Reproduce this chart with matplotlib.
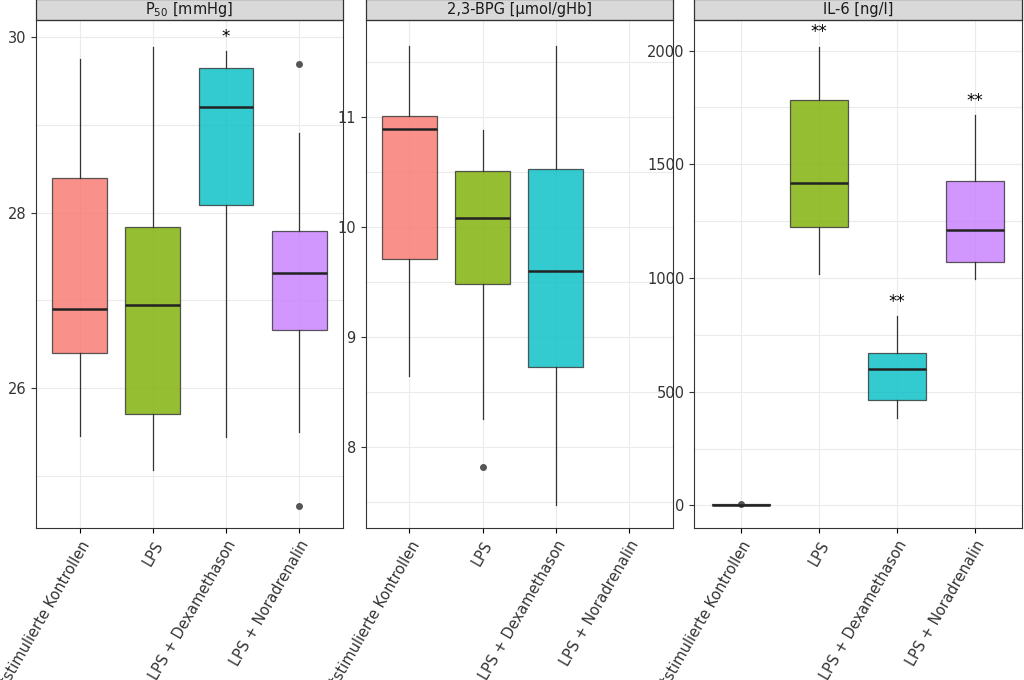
import matplotlib.pyplot as plt
from matplotlib.patches import Rectangle

groups = ["nichtstimulierte Kontrollen", "LPS", "LPS + Dexamethason", "LPS + Noradrenalin"]
colors = ["#F8766D", "#7CAE00", "#00BFC4", "#C77CFF"]

# (whislo, q1, med, q3, whishi, outliers)
p50 = [(25.45, 26.4, 26.9, 28.4, 29.75, []),
       (25.07, 25.7, 26.95, 27.84, 29.89, []),
       (25.44, 28.09, 29.21, 29.65, 29.84, []),
       (25.5, 26.66, 27.31, 27.79, 28.91, [24.65, 29.69])]
bpg = [(8.64, 9.71, 10.89, 11.01, 11.64, []),
       (8.25, 9.48, 10.08, 10.51, 10.88, [7.82]),
       (7.47, 8.73, 9.6, 10.52, 11.64, []),
       None]
il6 = [(0, 0, 2, 5, 8, [6]),
       (1017, 1224, 1418, 1784, 2018, []),
       (383, 462, 599, 670, 833, []),
       (996, 1070, 1211, 1427, 1718, [])]

panels = [("P$_{50}$ [mmHg]", p50, (24.4, 30.2), [26, 28, 30], {2: "*"}),
          ("2,3-BPG [µmol/gHb]", bpg, (7.26, 11.88), [8, 9, 10, 11], {}),
          ("IL-6 [ng/l]", il6, (-101, 2136), [0, 500, 1000, 1500, 2000], {1: "**", 2: "**", 3: "**"})]

fig = plt.figure(figsize=(10.24, 6.8), dpi=100)
boxes = [(0.035, 0.3), (0.357, 0.3), (0.678, 0.32)]
for (title, data, ylim, ticks, stars), (left, width) in zip(panels, boxes):
    ax = fig.add_axes([left, 0.223, width, 0.748])
    stats, pos, cols = [], [], []
    for i, d in enumerate(data):
        if d is None:
            continue
        lo, q1, med, q3, hi, fl = d
        stats.append(dict(whislo=lo, q1=q1, med=med, q3=q3, whishi=hi, fliers=fl))
        pos.append(i + 1)
        cols.append(colors[i])
    bp = ax.bxp(stats, positions=pos, widths=0.75, patch_artist=True, showcaps=False,
                medianprops=dict(color="#222222", lw=1.8),
                whiskerprops=dict(color="#333333", lw=0.9),
                boxprops=dict(edgecolor="#333333", lw=0.9),
                flierprops=dict(marker="o", markersize=4, markerfacecolor="#555555", markeredgecolor="#555555"))
    for b, c in zip(bp["boxes"], cols):
        b.set_facecolor(c)
        b.set_alpha(0.8)
    ax.set_xlim(0.4, 4.6)
    ax.set_ylim(*ylim)
    ax.set_yticks(ticks)
    step = ticks[1] - ticks[0]
    minor = [ticks[0] - step / 2] + [t + step / 2 for t in ticks]
    ax.set_yticks(minor, minor=True)
    ax.set_ylim(*ylim)
    ax.set_xticks([1, 2, 3, 4])
    ax.set_xticklabels(groups, rotation=60, ha="right", rotation_mode="anchor", fontsize=10.5, color="#333333")
    ax.tick_params(axis="y", labelsize=10.5, colors="#333333")
    ax.tick_params(which="minor", length=0)
    ax.grid(True, which="both", color="#EBEBEB", lw=0.8)
    ax.set_axisbelow(True)
    for s in ax.spines.values():
        s.set_color("#333333")
    for i, s in stars.items():
        hi = data[i][4]
        ax.text(i + 1, hi + (ylim[1] - ylim[0]) * 0.01, s, ha="center", va="bottom", fontsize=12)
    # strip header
    ax.add_patch(Rectangle((0, 1.0), 1, 0.04, transform=ax.transAxes, clip_on=False,
                           facecolor="#D9D9D9", edgecolor="#333333", lw=0.9))
    ax.text(0.5, 1.02, title, transform=ax.transAxes, ha="center", va="center", fontsize=10.5, color="#1A1A1A")

fig.savefig("out.png")
